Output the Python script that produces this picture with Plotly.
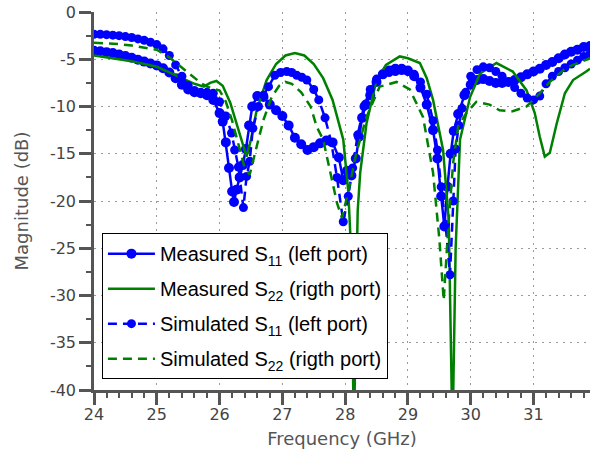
import plotly.graph_objects as go

# ---- Measured S11 (left port) ----
meas_s11_f = [24.0, 24.1, 24.2, 24.3, 24.4, 24.5, 24.6, 24.7, 24.8, 24.9, 25.0, 25.1, 25.2, 25.3, 25.4,
              25.5, 25.6, 25.7, 25.8, 25.9, 26.0, 26.05, 26.1, 26.15, 26.2, 26.23, 26.27, 26.32, 26.37,
              26.42, 26.47, 26.52, 26.6, 26.7, 26.8, 26.9, 27.0, 27.1, 27.2, 27.3, 27.4, 27.5, 27.6,
              27.7, 27.8, 27.9, 27.97, 28.03, 28.1, 28.17, 28.22, 28.27, 28.33, 28.4, 28.5, 28.6, 28.7,
              28.8, 28.9, 29.0, 29.1, 29.2, 29.3, 29.4, 29.47, 29.53, 29.58, 29.63, 29.68, 29.73, 29.8,
              29.9, 30.0, 30.1, 30.2, 30.3, 30.4, 30.5, 30.6, 30.7, 30.8, 30.9, 31.0, 31.1, 31.2, 31.3,
              31.4, 31.5, 31.6, 31.7, 31.8, 31.9]
meas_s11_db = [-4.1, -4.15, -4.25, -4.35, -4.5, -4.65, -4.85, -5.05, -5.25, -5.45, -5.65, -5.95, -6.4, -7.0, -7.7,
               -8.2, -8.5, -8.6, -8.8, -9.3, -10.7, -11.6, -13.8, -16.5, -19.0, -20.1, -18.8, -17.5, -16.2,
               -14.5, -12.0, -10.0, -8.9, -9.0, -9.8, -10.4, -11.0, -12.0, -13.3, -14.0, -14.6, -14.3, -13.9,
               -13.6, -13.8, -15.4, -17.8, -16.8, -17.3, -15.5, -13.2, -11.2, -9.8, -8.8, -7.4, -6.6, -6.2,
               -6.0, -6.0, -6.2, -6.8, -8.0, -9.8, -12.5, -15.5, -19.5, -22.7, -18.5, -15.0, -12.6, -10.8,
               -8.8, -7.7, -7.2, -7.1, -7.3, -7.5, -7.5, -7.4, -7.2, -6.9, -6.6, -6.3, -6.0, -5.6, -5.3,
               -4.9, -4.5, -4.2, -4.0, -3.7, -3.6]

# ---- Measured S22 (right port) ----
meas_s22_f = [24.0, 24.2, 24.4, 24.6, 24.8, 25.0, 25.2, 25.4, 25.6, 25.75, 25.85, 25.95, 26.05, 26.17, 26.3,
              26.43, 26.5, 26.59, 26.75, 26.9, 27.05, 27.2, 27.35, 27.5, 27.65, 27.8, 27.97, 28.05, 28.1,
              28.14, 28.18, 28.2, 28.24, 28.34, 28.5, 28.65, 28.87, 29.0, 29.19, 29.3, 29.4, 29.56, 29.65,
              29.71, 29.76, 29.83, 29.99, 30.15, 30.41, 30.67, 30.89, 31.02, 31.1, 31.18, 31.26, 31.37,
              31.5, 31.63, 31.84, 31.9]
meas_s22_db = [-4.6, -4.8, -5.0, -5.2, -5.5, -5.8, -6.4, -7.0, -7.6, -7.9, -7.5, -7.3, -7.8, -9.6, -12.5,
               -15.3, -13.5, -10.4, -7.2, -5.5, -4.6, -4.35, -4.6, -5.5, -7.0, -9.3, -13.5, -19.0, -26.0,
               -45.0, -28.0, -21.0, -17.0, -11.8, -7.2, -5.6, -4.7, -4.9, -5.4, -7.0, -9.3, -14.6, -22.0,
               -45.0, -25.0, -13.5, -9.0, -6.5, -5.4, -6.3, -8.3, -10.7, -13.2, -15.3, -14.9, -11.8,
               -8.6, -7.2, -6.3, -6.0]

# ---- Simulated S11 (left port) ----
sim_s11_f = [24.0, 24.1, 24.2, 24.3, 24.4, 24.5, 24.6, 24.7, 24.8, 24.9, 25.0, 25.1, 25.2, 25.3, 25.4,
             25.5, 25.6, 25.7, 25.8, 25.9, 26.0, 26.1, 26.19, 26.24, 26.3, 26.38, 26.43, 26.48, 26.53,
             26.62, 26.7, 26.78, 26.88, 26.97, 27.07, 27.15, 27.23, 27.31, 27.39, 27.5, 27.58, 27.68,
             27.78, 27.87, 27.97, 28.05, 28.12, 28.2, 28.3, 28.4, 28.5, 28.6, 28.7, 28.8, 28.9, 29.0,
             29.1, 29.2, 29.3, 29.4, 29.47, 29.53, 29.6, 29.67, 29.72, 29.76, 29.81, 29.86, 29.92, 30.0,
             30.1, 30.2, 30.3, 30.4, 30.5, 30.6, 30.7, 30.8, 30.9, 31.0, 31.1, 31.2, 31.3, 31.4, 31.5,
             31.6, 31.7, 31.8, 31.9]
sim_s11_db = [-2.35, -2.35, -2.4, -2.45, -2.5, -2.6, -2.7, -2.85, -3.0, -3.2, -3.45, -3.9, -4.6, -5.6, -6.8,
              -7.8, -8.3, -8.5, -8.5, -8.6, -9.5, -11.0, -12.8, -14.6, -16.4, -20.7, -17.4, -15.8, -12.3,
              -10.0, -8.8, -7.9, -6.7, -6.4, -6.3, -6.4, -6.7, -6.9, -7.2, -8.2, -9.3, -11.2,
              -13.8, -17.5, -22.2, -19.5, -16.5, -13.0, -10.0, -8.2, -7.1, -6.6, -6.4, -6.3, -6.2, -6.3,
              -6.6, -7.4, -8.7, -11.5, -14.6, -18.5, -22.5, -27.8, -20.0, -14.5, -12.0, -10.2, -8.5, -6.8,
              -6.1, -5.8, -5.9, -6.3, -6.8, -7.4, -8.0, -8.6, -9.1, -9.3, -8.9, -7.6, -6.8, -6.3, -5.9,
              -5.5, -5.1, -4.7, -4.4]

# ---- Simulated S22 (right port) ----
sim_s22_f = [24.0, 24.2, 24.4, 24.6, 24.8, 25.0, 25.2, 25.4, 25.5, 25.6, 25.7, 25.8, 25.9, 26.0, 26.1,
             26.2, 26.3, 26.4, 26.48, 26.55, 26.6, 26.7, 26.83, 26.95, 27.05, 27.15, 27.3, 27.45, 27.55,
             27.65, 27.76, 27.87, 27.95, 28.05, 28.18, 28.34, 28.55, 28.82, 29.03, 29.24, 29.4, 29.5,
             29.57, 29.65, 29.72, 29.8, 29.93, 30.09, 30.3, 30.46, 30.67, 30.89, 31.1, 31.26, 31.52,
             31.84, 31.9]
sim_s22_db = [-3.25, -3.3, -3.4, -3.55, -3.75, -4.0, -4.8, -5.9, -6.5, -7.0, -7.5, -7.9, -8.1, -8.3, -9.5,
              -11.5, -14.0, -16.5, -17.2, -15.5, -14.0, -11.4, -9.0, -7.8, -7.4, -7.6, -8.5, -10.0, -12.2,
              -13.5, -16.7, -20.2, -21.8, -19.0, -14.9, -11.1, -7.9, -7.4, -8.2, -11.1, -17.0, -24.0,
              -30.5, -22.0, -16.0, -12.1, -10.7, -9.5, -9.8, -10.4, -10.5, -10.0, -8.6, -7.4, -5.9,
              -5.1, -4.9]

x_ticks = [24, 25, 26, 27, 28, 29, 30, 31]
y_ticks = [0, -5, -10, -15, -20, -25, -30, -35, -40]

names = ["Measured S<sub>11</sub> (left port)", "Measured S<sub>22</sub> (rigth port)",
         "Simulated S<sub>11</sub> (left port)", "Simulated S<sub>22</sub> (rigth port)"]

BLUE = "#0000FF"
GREEN = "#008000"
AXC = "#555555"

fig = go.Figure()
fig.add_trace(go.Scatter(x=meas_s11_f, y=meas_s11_db, name=names[0], legendgroup="a", mode="lines+markers",
                         line=dict(color=BLUE, width=2.5), marker=dict(color=BLUE, size=10)))
fig.add_trace(go.Scatter(x=meas_s22_f, y=meas_s22_db, name=names[1], legendgroup="b", mode="lines",
                         line=dict(color=GREEN, width=2.5)))
fig.add_trace(go.Scatter(x=sim_s11_f, y=sim_s11_db, name=names[2], legendgroup="c", mode="lines+markers",
                         line=dict(color=BLUE, width=2.5, dash="9px,6px"), marker=dict(color=BLUE, size=9)))
fig.add_trace(go.Scatter(x=sim_s22_f, y=sim_s22_db, name=names[3], legendgroup="d", mode="lines",
                         line=dict(color=GREEN, width=2.5, dash="9px,6px")))

tick_font = dict(family="DejaVu Sans, sans-serif", size=16, color="#444444")
title_font = dict(family="DejaVu Sans, sans-serif", size=18, color="#555555")

fig.update_layout(
    width=591, height=456,
    margin=dict(l=94, r=1, t=12, b=66),
    paper_bgcolor="white", plot_bgcolor="white",
    showlegend=True,
    legend=dict(x=0.016, y=0.415, xanchor="left", yanchor="top",
                bgcolor="white", bordercolor="black", borderwidth=1,
                font=dict(family="Liberation Sans, Arial, sans-serif", size=20, color="black"),
                tracegroupgap=6, itemwidth=47),
    xaxis=dict(range=[24, 31.9], tickvals=x_ticks, ticktext=[str(v) for v in x_ticks],
               automargin=False, ticklabeloverflow="allow",
               showline=True, linecolor=AXC, linewidth=2.5, mirror=False,
               ticks="outside", ticklen=12, tickwidth=2.5, tickcolor=AXC,
               ticklabelstandoff=-4,
               minor=dict(dtick=0.2, tick0=24, ticks="outside", ticklen=5, tickwidth=2, tickcolor=AXC,
                          showgrid=False),
               showgrid=True, gridcolor="#9a9a9a", gridwidth=1, griddash="2px,5px",
               zeroline=False, tickfont=tick_font,
               title=dict(text="Frequency (GHz)", font=title_font, standoff=10)),
    yaxis=dict(range=[-40, 0], tickvals=y_ticks, ticktext=[str(v) for v in y_ticks],
               automargin=False, ticklabeloverflow="allow",
               showline=True, linecolor=AXC, linewidth=2.5, mirror=False,
               ticks="outside", ticklen=12, tickwidth=2.5, tickcolor=AXC,
               minor=dict(dtick=2.5, tick0=0, ticks="outside", ticklen=5, tickwidth=2, tickcolor=AXC,
                          showgrid=False),
               showgrid=True, gridcolor="#9a9a9a", gridwidth=1, griddash="2px,5px",
               zeroline=False, tickfont=tick_font,
               title=dict(text="Magnitude (dB)", font=title_font, standoff=17)),
)

# remove the browser's default 8px body margin so the figure fills the window exactly
fig.write_html("out.html", config={"displayModeBar": False},
               post_script="document.body.style.margin='0';document.body.style.overflow='hidden';")
